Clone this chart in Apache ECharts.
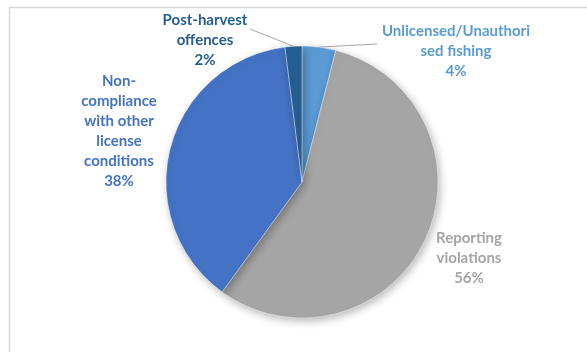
<!DOCTYPE html>
<html>
<head>
<meta charset="utf-8">
<script src="https://cdn.jsdelivr.net/npm/echarts@6/dist/echarts.min.js"></script>
<style>
  html, body { margin: 0; padding: 0; background: #ffffff; }
  #chart { width: 587px; height: 352px; }
</style>
</head>
<body>
<div id="chart"></div>
<script>
// Offence categories and their shares (%)
const categories = [
  'Unlicensed/Unauthori\nsed fishing',
  'Reporting\nviolations',
  'Non-\ncompliance\nwith other\nlicense\nconditions',
  'Post-harvest\noffences'
];
const shares = [4, 56, 38, 2];

// Slice and label colours
const sliceColors = ['#5B9BD5', '#A5A5A5', '#4472C4', '#255E91'];
const labelColors = ['#5B9BD5', '#A5A5A5', '#4472C4', '#255E91'];

// Label block centres and optional leader-line endpoints
const labelSpots = [
  { x: 456, y: 51, lineEnd: [377, 44] },
  { x: 469, y: 258, lineEnd: null },
  { x: 119, y: 131, lineEnd: null },
  { x: 205, y: 40, lineEnd: [250, 29] }
];

const chart = echarts.init(document.getElementById('chart'), null, { renderer: 'canvas' });

const data = categories.map((name, i) => ({
  name: name,
  value: shares[i],
  itemStyle: { color: sliceColors[i] },
  label: { color: labelColors[i] },
  labelLine: { show: !!labelSpots[i].lineEnd }
}));

chart.setOption({
  animation: false,
  backgroundColor: '#ffffff',
  graphic: [{
    type: 'polyline',
    shape: { points: [[9.5, 352], [9.5, 7.5], [587, 7.5]] },
    style: { stroke: '#D9D9D9', lineWidth: 1.5, fill: null },
    silent: true
  }],
  series: [{
    type: 'pie',
    center: [302, 182],
    radius: 136,
    startAngle: 90,
    clockwise: true,
    avoidLabelOverlap: false,
    data: data,
    itemStyle: {
      borderColor: '#ffffff',
      borderWidth: 0.4,
      shadowBlur: 8,
      shadowOffsetX: 2,
      shadowOffsetY: 3,
      shadowColor: 'rgba(0,0,0,0.28)'
    },
    label: {
      show: true,
      position: 'outside',
      fontFamily: 'Lato, "Open Sans", sans-serif',
      fontWeight: 'bold',
      fontSize: 15,
      lineHeight: 20,
      align: 'center',
      formatter: p => p.name + '\n' + p.value + '%'
    },
    labelLine: {
      lineStyle: { color: '#A6A6A6', width: 1 }
    },
    labelLayout: function (params) {
      const spot = labelSpots[params.dataIndex];
      const out = { x: spot.x, y: spot.y, align: 'center', verticalAlign: 'middle' };
      if (spot.lineEnd && params.labelLinePoints) {
        const a = params.labelLinePoints[0];
        out.labelLinePoints = [[a[0], a[1]], [a[0], a[1]], spot.lineEnd];
      }
      return out;
    }
  }]
});
</script>
</body>
</html>
